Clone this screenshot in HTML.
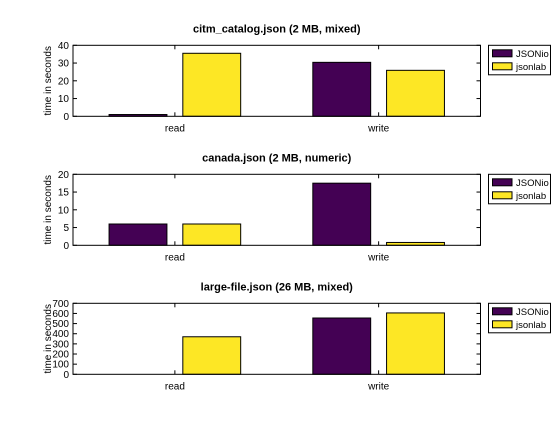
<!DOCTYPE html>
<html><head><meta charset="utf-8"><style>
body{margin:0;background:#fff;}
svg text{font-family:"Liberation Sans",sans-serif;}
</style></head><body>
<svg id="c" width="560" height="420" xmlns="http://www.w3.org/2000/svg"></svg>
<script>
const categories = ["read","write"];
const seriesNames = ["JSONio","jsonlab"];
const titles = ["citm_catalog.json (2 MB, mixed)","canada.json (2 MB, numeric)","large-file.json (26 MB, mixed)"];
const citmJSONio = [1, 30.4];
const citmJsonlab = [35.5, 25.9];
const canadaJSONio = [6, 17.5];
const canadaJsonlab = [6, 0.8];
const largeJSONio = [0, 555];
const largeJsonlab = [370, 605];
const yMaxes = [40, 20, 700];
const ySteps = [10, 5, 100];
const colors = ["#440154","#fde725"];
const panels = [[citmJSONio,citmJsonlab],[canadaJSONio,canadaJsonlab],[largeJSONio,largeJsonlab]];
const tops = [45.3, 174.3, 303.3];
const NS="http://www.w3.org/2000/svg";
const svg=document.getElementById('c');
function mk(tag,attrs,parent){const e=document.createElementNS(NS,tag);for(const k in attrs)e.setAttribute(k,attrs[k]);(parent||svg).appendChild(e);return e;}
const X0=73,X1=480.5,H=71;
const xs=v=>X0+(v-0.5)/2*(X1-X0);
panels.forEach((series,p)=>{
  const top=tops[p],bot=top+H;
  const ys=v=>bot-v/yMaxes[p]*H;
  const g=mk('g',{});
  
  
  const t=mk('text',{x:(X0+X1)/2,y:top-13,'text-anchor':'middle','font-size':'11','font-weight':'bold'},g);
  t.textContent=titles[p];
  
  
  series.forEach((vals,s)=>{
    vals.forEach((v,i)=>{
      const cx=xs(i+1)+(s===0?-0.18:0.18)*204/ (204/ (X1-X0)*2) * 0; // placeholder
      const c=xs(i+1+(s===0?-0.181:0.181));
      const w=0.284*(X1-X0)/2;
      const r=mk('rect',{x:c-w/2,y:ys(v),width:w,height:Math.max(0,bot-ys(v)),fill:colors[s],stroke:'#000','stroke-width':1},g);
      
      
    });
  });
  const box=mk('rect',{x:X0,y:top,width:X1-X0,height:H,fill:'none',stroke:'#000','stroke-width':1},g);
  
  
  for(let v=0;v<=yMaxes[p];v+=ySteps[p]){
    const y=ys(v);
    mk('line',{x1:X0,x2:X0+4,y1:y,y2:y,stroke:'#000'},g);
    mk('line',{x1:X1,x2:X1-4,y1:y,y2:y,stroke:'#000'},g);
    const tl=mk('text',{x:X0-4,y:y+3.5,'text-anchor':'end','font-size':'10'},g);
    tl.textContent=v;
    
    
  }
  categories.forEach((c,i)=>{
    const x=xs(i+1);
    mk('line',{x1:x,x2:x,y1:bot,y2:bot-4,stroke:'#000'},g);
    mk('line',{x1:x,x2:x,y1:top,y2:top+4,stroke:'#000'},g);
    const tl=mk('text',{x:x,y:bot+15,'text-anchor':'middle','font-size':'10'},g);
    tl.textContent=c;
    
    
  });
  const yl=mk('text',{x:0,y:0,'text-anchor':'middle','font-size':'10',transform:`translate(51,${top+H/2}) rotate(-90)`},g);
  yl.textContent='time in seconds';
  
  
  const lg=mk('g',{},g);
  
  
  mk('rect',{x:488.5,y:top,width:62,height:29.5,fill:'#fff',stroke:'#000','stroke-width':1},lg);
  seriesNames.forEach((n,s)=>{
    const yy=top+4.5+s*13;
    const sw=mk('rect',{x:492.5,y:yy,width:19.5,height:7,fill:colors[s],stroke:'#000','stroke-width':1},lg);
    
    
    const lt=mk('text',{x:516,y:yy+7,'font-size':'9.5'},lg);
    lt.textContent=n;
    
    
  });
});
</script>
</body></html>
